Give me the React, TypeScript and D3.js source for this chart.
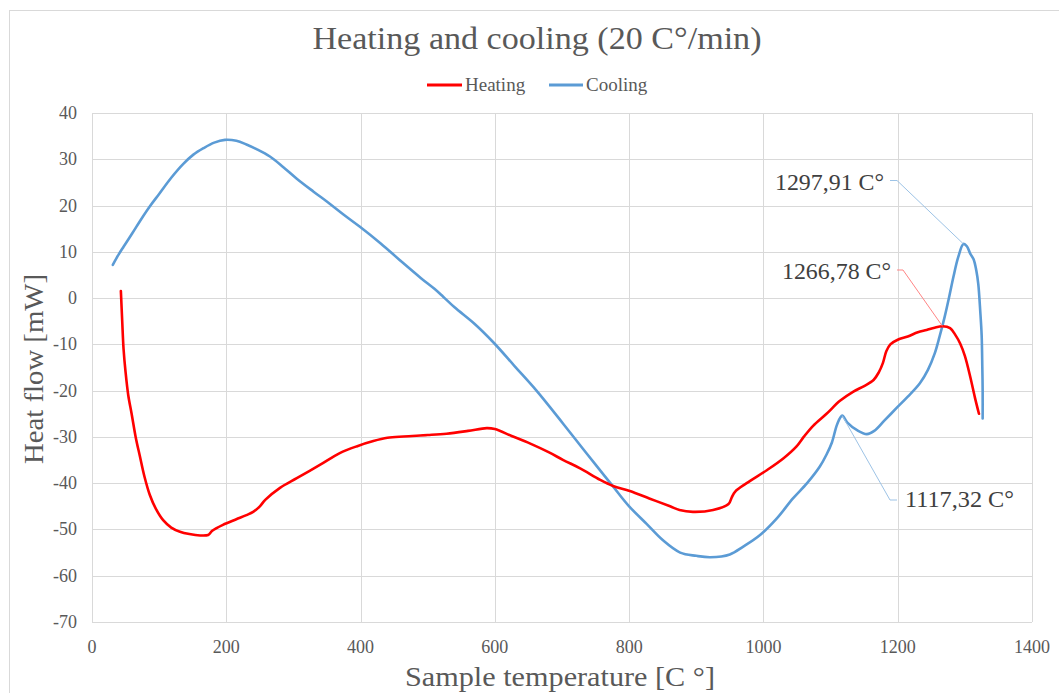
import React from "react";
import * as d3 from "d3";

const W = 1059;
const H = 693;

const xTicks = [0, 200, 400, 600, 800, 1000, 1200, 1400];
const yTicks = [40, 30, 20, 10, 0, -10, -20, -30, -40, -50, -60, -70];

const heating: [number, number][] = [
  [43, 1.5], [45, -5], [47, -11], [50, -16], [54, -21], [59, -25], [65, -30], [71.5, -34.3],
  [78, -38.5], [86, -42.5], [95, -45.5], [106, -48], [118, -49.6], [131, -50.5], [145, -51],
  [161, -51.3], [173, -51.2], [176, -50.8], [179, -50.3], [195, -49], [215, -47.8], [230, -46.9],
  [240, -46.2], [250, -45], [258, -43.6], [280, -41], [305, -38.9], [340, -36], [369, -33.5],
  [395, -32], [419, -30.9], [440, -30.2], [464, -29.9], [500, -29.6], [528, -29.3], [560, -28.7],
  [588, -28.1], [600, -28.3], [625, -29.8], [652, -31.4], [680, -33.3], [702, -35], [727, -36.8],
  [757, -39.3], [776, -40.6], [801, -41.7], [830, -43.3], [861, -45.0], [875, -45.8], [895, -46.2],
  [925, -45.8], [948, -44.5], [953, -43], [958, -41.8], [975, -40], [1005, -37.2], [1030, -34.6],
  [1049, -32.1], [1060, -30], [1074, -27.6], [1094, -25], [1114, -22.2], [1134, -20.2], [1150, -19],
  [1164, -17.7], [1172, -16], [1178, -14], [1183, -11.5], [1189, -10], [1200, -9], [1215, -8.3],
  [1230, -7.4], [1243, -6.9], [1255, -6.4], [1266.78, -6.1], [1278, -6.5], [1286, -8], [1293, -9.8],
  [1300, -12.5], [1308, -17], [1315, -21.5], [1321, -25],
];

const cooling: [number, number][] = [
  [31, 7.2], [40, 9.5], [47, 11.1], [60, 14], [73, 17], [86, 19.8], [100, 22.5], [118, 26],
  [136, 29], [151, 31], [166, 32.4], [182, 33.6], [198, 34.2], [215, 34], [230, 33.2], [245, 32.2],
  [265, 30.6], [285, 28.3], [305, 25.8], [330, 23], [354, 20.4], [375, 18], [399, 15.4], [430, 11.8],
  [460, 8], [490, 4.3], [510, 2], [523, 0.3], [540, -2], [570, -5.6], [598, -9.6], [630, -14.8],
  [662, -20], [702, -27.2], [727, -31.8], [750, -36], [776, -40.7], [800, -45], [826, -48.8],
  [850, -52.3], [876, -55], [900, -55.7], [921, -56], [950, -55.4], [970, -53.7], [995, -51.2],
  [1020, -47.6], [1044, -43.3], [1065, -40], [1084, -36.4], [1094, -33.8], [1102, -31.2], [1110, -27.2],
  [1117.32, -25.4], [1125, -26.9], [1140, -28.6], [1154, -29.4], [1165, -28.7], [1180, -26.5],
  [1198, -23.8], [1215, -21.3], [1233, -18.4], [1245, -15.5], [1255, -12], [1262, -8.5], [1270, -4],
  [1277, 0.5], [1283, 4.6], [1290, 8.8], [1297.91, 11.7], [1303, 11.2], [1308, 9.6], [1313, 8.4],
  [1317, 6], [1320, 3], [1323, -3], [1325, -8], [1326, -15], [1326.5, -20], [1326.5, -26],
];

const annotations = [
  { label: "1297,91 C°", point: [1297.91, 11.7], text: [775, 190], elbow: [[890, 180.5], [897, 180.5]], color: "#9dc3e6" },
  { label: "1266,78 C°", point: [1266.78, -6.1], text: [782, 279], elbow: [[897, 270], [903, 270]], color: "#ff8585" },
  { label: "1117,32 C°", point: [1117.32, -25.4], text: [905, 507], elbow: [[897, 500], [890, 500]], color: "#9dc3e6" },
];

const FONT = "'Liberation Serif', 'DejaVu Serif', serif";
const GRAY = "#595959";

export default function App() {
  const left = 92, right = 1032, top = 113, bottom = 622;
  const x = d3.scaleLinear().domain([0, 1400]).range([left, right]);
  const y = d3.scaleLinear().domain([-70, 40]).range([bottom, top]);
  const line = d3
    .line<[number, number]>()
    .x((d) => x(d[0]))
    .y((d) => y(d[1]))
    .curve(d3.curveCatmullRom.alpha(0.5));

  return (
    <svg width={W} height={H} style={{ position: "absolute", left: 0, top: 0, background: "#fff" }} fontFamily={FONT}>
      <rect x={9.5} y={10.5} width={1100} height={700} fill="#fff" stroke="#d9d9d9" strokeWidth={1} />
      {yTicks.map((t) => (
        <line key={"gy" + t} x1={left} x2={right} y1={Math.round(y(t)) + 0.5} y2={Math.round(y(t)) + 0.5} stroke="#d9d9d9" strokeWidth={1} />
      ))}
      {xTicks.map((t) => (
        <line key={"gx" + t} y1={top} y2={bottom} x1={Math.round(x(t)) + 0.5} x2={Math.round(x(t)) + 0.5} stroke="#d9d9d9" strokeWidth={1} />
      ))}
      {yTicks.map((t) => (
        <text key={"ty" + t} x={77} y={y(t) + 6} textAnchor="end" fontSize={18} fill={GRAY}>
          {t}
        </text>
      ))}
      {xTicks.map((t) => (
        <text key={"tx" + t} x={x(t)} y={653} textAnchor="middle" fontSize={18} fill={GRAY}>
          {t}
        </text>
      ))}
      <text x={560} y={686} textAnchor="middle" fontSize={28} fill={GRAY} textLength={310} lengthAdjust="spacingAndGlyphs">
        Sample temperature [C °]
      </text>
      <text transform={`translate(43, 369) rotate(-90)`} textAnchor="middle" fontSize={28} fill={GRAY} textLength={190} lengthAdjust="spacingAndGlyphs">
        Heat flow [mW]
      </text>
      <text x={537} y={49} textAnchor="middle" fontSize={31} fill={GRAY} textLength={449} lengthAdjust="spacingAndGlyphs">
        Heating and cooling (20 C°/min)
      </text>
      <line x1={427} x2={462} y1={85} y2={85} stroke="#ff0000" strokeWidth={3} />
      <text x={465} y={91} fontSize={19} fill={GRAY}>Heating</text>
      <line x1={549} x2={583} y1={85} y2={85} stroke="#5b9bd5" strokeWidth={3} />
      <text x={586} y={91} fontSize={19} fill={GRAY}>Cooling</text>
      <path d={line(cooling) || ""} fill="none" stroke="#5b9bd5" strokeWidth={2.6} strokeLinejoin="round" strokeLinecap="round" />
      <path d={line(heating) || ""} fill="none" stroke="#ff0000" strokeWidth={2.6} strokeLinejoin="round" strokeLinecap="round" />
      {annotations.map((a) => {
        const px = x(a.point[0]);
        const py = y(a.point[1]);
        const pts = [a.elbow[0], a.elbow[1], [px, py]];
        return (
          <g key={a.label}>
            <polyline points={pts.map((p) => p.join(",")).join(" ")} fill="none" stroke={a.color} strokeWidth={1} />
            <text x={a.text[0]} y={a.text[1]} fontSize={23} fill="#404040" textLength={109} lengthAdjust="spacingAndGlyphs">
              {a.label}
            </text>
          </g>
        );
      })}
    </svg>
  );
}
